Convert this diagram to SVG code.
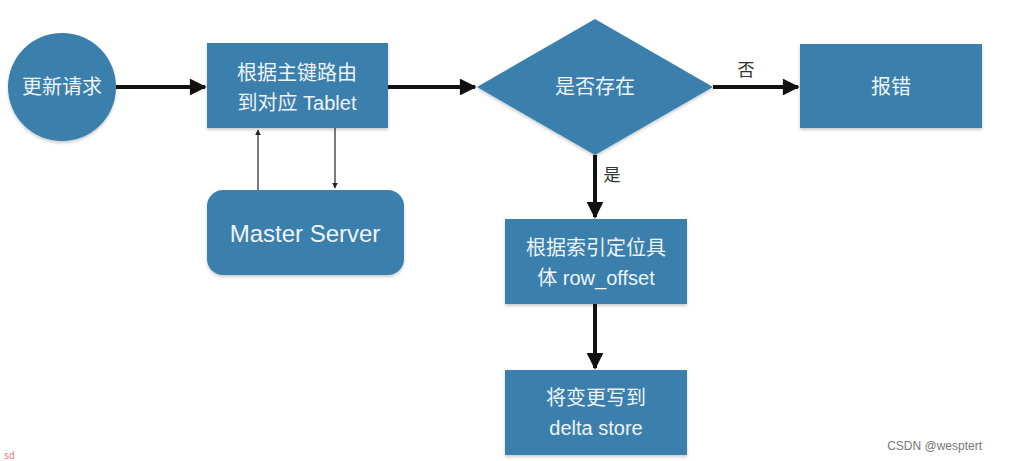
<svg xmlns="http://www.w3.org/2000/svg" width="1012" height="461" viewBox="0 0 1012 461">
<defs>
<style>
.n{fill:#3b7fad;}
.t{fill:#eef4f8;font-family:"Liberation Sans","Noto Sans CJK SC",sans-serif;font-size:20px;text-anchor:middle;dominant-baseline:central;}
.lbl{fill:#333;font-family:"Liberation Sans","Noto Sans CJK SC",sans-serif;font-size:17px;text-anchor:middle;dominant-baseline:central;}
.thick{stroke:#111;stroke-width:4;fill:none;}
.thin{stroke:#222;stroke-width:1.2;fill:none;}
</style>
<marker id="big" viewBox="0 0 10 10" refX="9" refY="5" markerWidth="4.5" markerHeight="4.2" orient="auto" markerUnits="strokeWidth">
<path d="M0,0 L10,5 L0,10 z" fill="#111"/>
</marker>
<marker id="small" viewBox="0 0 10 10" refX="9" refY="5" markerWidth="5" markerHeight="5" orient="auto" markerUnits="strokeWidth">
<path d="M0,0 L10,5 L0,10 z" fill="#222"/>
</marker>
<filter id="sh" x="-10%" y="-10%" width="120%" height="130%">
<feDropShadow dx="0" dy="2" stdDeviation="1.5" flood-color="#000" flood-opacity="0.2"/>
</filter>
</defs>
<rect width="1012" height="461" fill="#ffffff"/>
<g id="connectors">
<line class="thick" x1="116" y1="87" x2="205" y2="87" marker-end="url(#big)"/>
<line class="thick" x1="388" y1="87" x2="475" y2="87" marker-end="url(#big)"/>
<line class="thick" x1="713" y1="87" x2="798" y2="87" marker-end="url(#big)"/>
<line class="thick" x1="595" y1="155" x2="595" y2="217" marker-end="url(#big)"/>
<line class="thick" x1="595" y1="304" x2="595" y2="368" marker-end="url(#big)"/>
<line class="thin" x1="258" y1="190" x2="258" y2="130" marker-end="url(#small)"/>
<line class="thin" x1="335" y1="128" x2="335" y2="188" marker-end="url(#small)"/>
<text class="lbl" x="746" y="70">否</text>
<text class="lbl" x="612" y="175">是</text>
</g>
<g id="n-request">
<circle class="n" cx="62" cy="87" r="54" filter="url(#sh)"/>
<text class="t" x="62" y="87">更新请求</text>
</g>
<g id="n-route">
<rect class="n" x="207" y="43" width="181" height="85" filter="url(#sh)"/>
<text class="t" x="297" y="73">根据主键路由</text>
<text class="t" x="297" y="103">到对应 Tablet</text>
</g>
<g id="n-master">
<rect class="n" x="207" y="190" width="197" height="85" rx="16" ry="16" filter="url(#sh)"/>
<text class="t" x="305" y="233" style="font-size:24px">Master Server</text>
</g>
<g id="n-exists">
<polygon class="n" points="595,19 713,87 595,155 477,87" filter="url(#sh)"/>
<text class="t" x="595" y="87">是否存在</text>
</g>
<g id="n-error">
<rect class="n" x="800" y="44" width="182" height="84" filter="url(#sh)"/>
<text class="t" x="891" y="87">报错</text>
</g>
<g id="n-locate">
<rect class="n" x="505" y="219" width="182" height="85" filter="url(#sh)"/>
<text class="t" x="596" y="248">根据索引定位具</text>
<text class="t" x="596" y="278">体 row_offset</text>
</g>
<g id="n-write">
<rect class="n" x="505" y="370" width="182" height="85" filter="url(#sh)"/>
<text class="t" x="596" y="398">将变更写到</text>
<text class="t" x="596" y="428">delta store</text>
</g>
<text x="982" y="446" style="fill:#777;font-family:'Liberation Sans',sans-serif;font-size:12px;text-anchor:end;dominant-baseline:central">CSDN @wesptert</text>
<text x="4" y="455" style="fill:#e08080;font-family:'Liberation Sans',sans-serif;font-size:10px;dominant-baseline:central">sd</text>
</svg>
